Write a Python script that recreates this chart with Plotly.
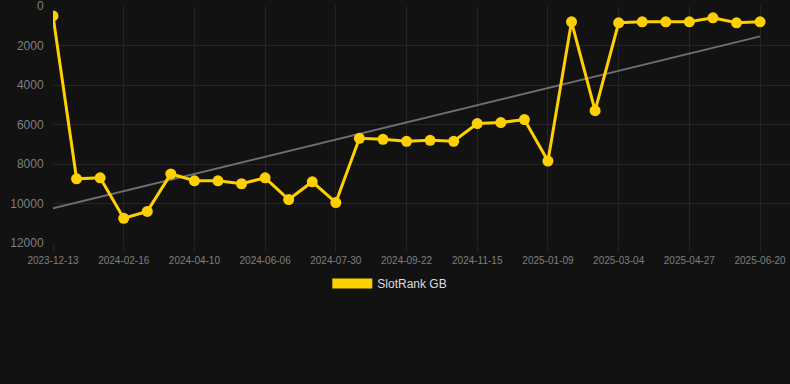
import numpy as np
import plotly.graph_objects as go

dates = [
    "2023-12-13", "2024-01-03", "2024-01-25", "2024-02-16", "2024-03-04", "2024-03-22",
    "2024-04-10", "2024-04-28", "2024-05-18", "2024-06-06", "2024-06-24", "2024-07-12",
    "2024-07-30", "2024-08-17", "2024-09-04", "2024-09-22", "2024-10-10", "2024-10-28",
    "2024-11-15", "2024-12-03", "2024-12-21", "2025-01-09", "2025-01-27", "2025-02-14",
    "2025-03-04", "2025-03-22", "2025-04-09", "2025-04-27", "2025-05-15", "2025-06-02",
    "2025-06-20",
]
rank_gb = [
    500, 8750, 8700, 10750, 10400, 8500, 8850, 8850, 9000, 8700, 9800, 8900,
    9950, 6700, 6750, 6850, 6800, 6850, 5950, 5900, 5750, 7850, 800, 5300,
    850, 800, 800, 800, 600, 850, 800,
]
tick_dates = dates[::3]
y_ticks = [0, 2000, 4000, 6000, 8000, 10000, 12000]

YELLOW = "#FFD000"
BG = "#121212"
GRID = "#242424"
TXT = "#7f7f7f"

idx = np.arange(len(dates))
slope, intercept = np.polyfit(idx, rank_gb, 1)
trend = slope * idx + intercept

fig = go.Figure()
fig.add_trace(go.Scatter(
    x=dates, y=trend, mode="lines",
    line=dict(color="#6e6e6e", width=2), showlegend=False, hoverinfo="skip",
))
fig.add_trace(go.Scatter(
    x=dates, y=rank_gb, mode="lines+markers",
    line=dict(color=YELLOW, width=3), marker=dict(color=YELLOW, size=11),
    showlegend=False,
))
fig.add_trace(go.Scatter(
    x=[None], y=[None], mode="lines", name="SlotRank GB",
    line=dict(color=YELLOW, width=11),
))

fig.update_layout(
    width=790, height=384,
    paper_bgcolor=BG, plot_bgcolor=BG,
    margin=dict(l=53, r=0, t=6, b=141),
    font=dict(family="Liberation Sans, Arial, sans-serif", color=TXT, size=11),
    legend=dict(orientation="h", x=0.457, xanchor="center", y=-0.11, yanchor="top",
                itemwidth=40,
                font=dict(color="#dddddd", size=12), bgcolor="rgba(0,0,0,0)"),
    xaxis=dict(
        type="category", categoryorder="array", categoryarray=dates,
        range=[0, 31.27], tickvals=tick_dates, ticktext=tick_dates,
        showgrid=True, gridcolor=GRID, gridwidth=1,
        ticks="outside", ticklen=8, tickcolor=GRID,
        zeroline=False, showline=False, tickfont=dict(size=10, color=TXT),
    ),
    yaxis=dict(
        range=[12000, -1], tickvals=y_ticks, tickformat="d",
        showgrid=True, gridcolor=GRID, gridwidth=1,
        zeroline=False, showline=False, ticks="outside", ticklen=6, tickcolor=BG,
        tickfont=dict(size=12, color=TXT), ticklabeloverflow="allow",
    ),
)

fig.write_html(
    "out.html",
    config={"displayModeBar": False},
    post_script="document.body.style.margin='0';document.body.style.background='#121212';document.body.style.overflow='hidden';",
)
